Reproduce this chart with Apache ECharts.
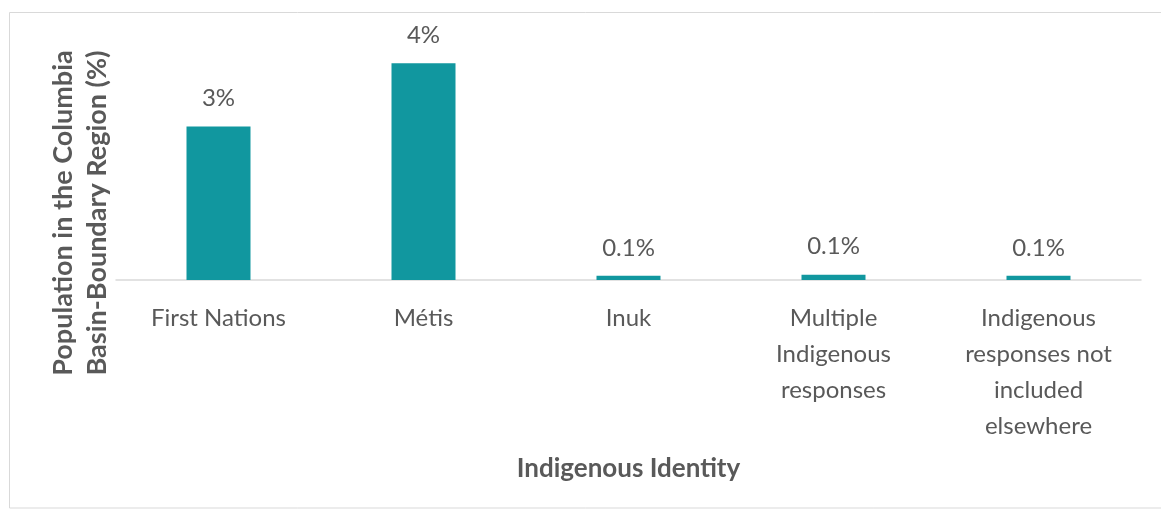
<!DOCTYPE html>
<html>
<head>
<meta charset="utf-8">
<script src="https://cdn.jsdelivr.net/npm/echarts@6/dist/echarts.min.js"></script>
<style>html,body{margin:0;padding:0;background:#fff;}#c{width:1161px;height:510px;}</style>
</head>
<body>
<div id="c"></div>
<script>
const categories = ["First Nations", "Métis", "Inuk", "Multiple\nIndigenous\nresponses", "Indigenous\nresponses not\nincluded\nelsewhere"];
const values = [2.9, 4.1, 0.08, 0.1, 0.08];
const valueLabels = ["3%", "4%", "0.1%", "0.1%", "0.1%"];
const xTitle = "Indigenous Identity";
const yTitle = "Population in the Columbia\nBasin-Boundary Region (%)";

const FONT = "Lato, 'Open Sans', sans-serif";
const chart = echarts.init(document.getElementById('c'), null, {renderer: 'canvas'});
chart.setOption({
  backgroundColor: '#ffffff',
  animation: false,
  grid: {left: 116, right: 20, top: 42, bottom: 230},
  graphic: [
    {type: 'rect', shape: {x: 9.5, y: 12.5, width: 1170, height: 495.5}, style: {fill: 'none', stroke: '#d9d9d9', lineWidth: 1}, silent: true},
    {type: 'text', x: 80, y: 213, rotation: Math.PI / 2,
     style: {text: yTitle, fill: '#595959', font: 'bold 27px ' + FONT, align: 'center', verticalAlign: 'middle', lineHeight: 34}}
  ],
  xAxis: {
    type: 'category',
    data: categories,
    axisLine: {show: true, lineStyle: {color: '#d9d9d9', width: 1.5}},
    axisTick: {show: false},
    axisLabel: {color: '#595959', fontSize: 24, fontFamily: FONT, lineHeight: 36, margin: 20, interval: 0},
    name: xTitle,
    nameLocation: 'middle',
    nameGap: 176,
    nameTextStyle: {color: '#595959', fontSize: 26, fontWeight: 'bold', fontFamily: FONT}
  },
  yAxis: {type: 'value', min: 0, max: 4.5, show: false, splitLine: {show: false}},
  series: [{
    type: 'bar',
    data: values,
    barWidth: 64,
    itemStyle: {color: '#11979f'},
    label: {
      show: true, position: 'top', distance: 16,
      color: '#595959', fontSize: 24, fontFamily: FONT,
      formatter: p => valueLabels[p.dataIndex]
    }
  }]
});
</script>
</body>
</html>
